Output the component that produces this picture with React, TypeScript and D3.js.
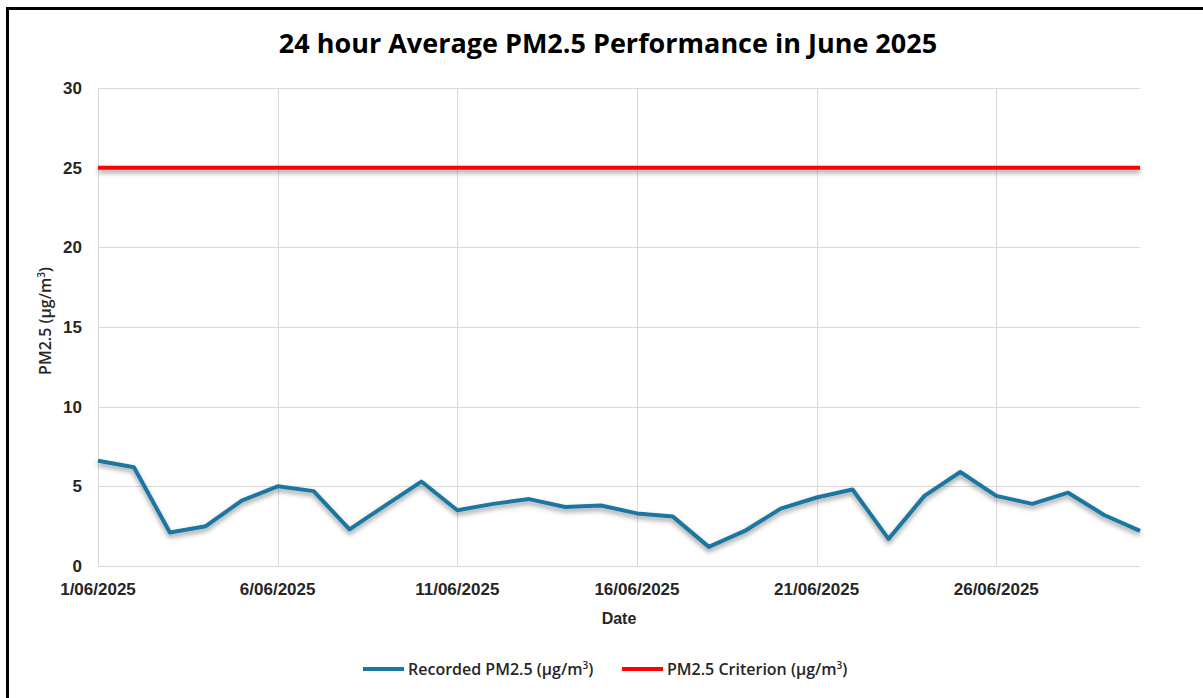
import { useEffect, useRef } from "react";
import * as d3 from "d3";

const W = 1203;
const H = 698;

// day of June 2025
const days = [
  1, 2, 3, 4, 5, 6, 7, 8, 9, 10, 11, 12, 13, 14, 15,
  16, 17, 18, 19, 20, 21, 22, 23, 24, 25, 26, 27, 28, 29, 30,
];
const recorded = [
  6.6, 6.2, 2.1, 2.5, 4.1, 5.0, 4.7, 2.3, 3.8, 5.3, 3.5, 3.9, 4.2, 3.7, 3.8,
  3.3, 3.1, 1.2, 2.2, 3.6, 4.3, 4.8, 1.7, 4.4, 5.9, 4.4, 3.9, 4.6, 3.2, 2.2,
];
const criterion = 25;
const xTickDays = [1, 6, 11, 16, 21, 26];
const yTicks = [0, 5, 10, 15, 20, 25, 30];

const title = "24 hour Average PM2.5 Performance in June 2025";
const seriesNames = ["Recorded PM2.5 (µg/m", "PM2.5 Criterion (µg/m"];
const seriesColors = ["#1a77a0", "#ff0000"];

export default function App() {
  const svgRef = useRef<SVGSVGElement>(null);

  useEffect(() => {
    const svg = d3.select(svgRef.current);
    svg.selectAll("*").remove();

    const margin = { left: 98, right: 63, top: 88, bottom: 132 };
    const toDate = (d: number) => new Date(2025, 5, d);

    const x = d3.scaleTime()
      .domain([toDate(1), toDate(30)])
      .range([margin.left, W - margin.right]);
    const y = d3.scaleLinear()
      .domain([0, 30])
      .range([H - margin.bottom, margin.top]);

    const defs = svg.append("defs");
    defs.append("filter")
      .attr("id", "shadow")
      .attr("filterUnits", "userSpaceOnUse")
      .attr("x", 0).attr("y", 0).attr("width", W).attr("height", H)
      .append("feDropShadow")
      .attr("dx", 0).attr("dy", 3).attr("stdDeviation", 2.5)
      .attr("flood-color", "#000").attr("flood-opacity", 0.4);

    svg.append("rect")
      .attr("width", W).attr("height", H).attr("fill", "#fff");

    // outer frame (continues beyond the right and bottom edges)
    svg.append("rect")
      .attr("x", 7.5).attr("y", 8.5)
      .attr("width", W + 20).attr("height", H + 20)
      .attr("fill", "none").attr("stroke", "#000").attr("stroke-width", 3);

    svg.append("text")
      .attr("x", 608).attr("y", 53)
      .attr("text-anchor", "middle")
      .attr("font-family", "Open Sans, sans-serif")
      .attr("font-weight", 700)
      .attr("font-size", 27)
      .attr("fill", "#000")
      .text(title);

    const grid = svg.append("g").attr("stroke", "#d9d9d9").attr("stroke-width", 1);
    grid.selectAll("line.h")
      .data(yTicks)
      .enter().append("line")
      .attr("x1", margin.left).attr("x2", W - margin.right)
      .attr("y1", d => Math.round(y(d)) + 0.5).attr("y2", d => Math.round(y(d)) + 0.5);
    grid.selectAll("line.v")
      .data(xTickDays)
      .enter().append("line")
      .attr("x1", d => Math.round(x(toDate(d))) + 0.5).attr("x2", d => Math.round(x(toDate(d))) + 0.5)
      .attr("y1", margin.top).attr("y2", H - margin.bottom);

    // axis labels
    svg.append("g")
      .selectAll("text")
      .data(yTicks)
      .enter().append("text")
      .attr("x", 82).attr("y", d => y(d) + 6)
      .attr("text-anchor", "end")
      .attr("font-family", "Liberation Sans, Arial, sans-serif")
      .attr("font-weight", "bold")
      .attr("font-size", 17)
      .attr("fill", "#262626")
      .text(d => d);

    const fmt = d3.timeFormat("%-d/%m/%Y");
    svg.append("g")
      .selectAll("text")
      .data(xTickDays)
      .enter().append("text")
      .attr("x", d => x(toDate(d))).attr("y", 595)
      .attr("text-anchor", "middle")
      .attr("font-family", "Liberation Sans, Arial, sans-serif")
      .attr("font-weight", "bold")
      .attr("font-size", 17)
      .attr("fill", "#262626")
      .text(d => fmt(toDate(d)));

    svg.append("text")
      .attr("x", 619).attr("y", 624)
      .attr("text-anchor", "middle")
      .attr("font-family", "Liberation Sans, Arial, sans-serif")
      .attr("font-weight", "bold")
      .attr("font-size", 16)
      .attr("fill", "#262626")
      .text("Date");

    const yl = svg.append("text")
      .attr("transform", "translate(51,321) rotate(-90)")
      .attr("text-anchor", "middle")
      .attr("font-family", "Open Sans, sans-serif")
      .attr("font-weight", 600)
      .attr("font-size", 16)
      .attr("fill", "#262626");
    yl.append("tspan").text("PM2.5 (µg/m");
    yl.append("tspan").attr("dy", -6).attr("font-size", 10).text("3");
    yl.append("tspan").attr("dy", 6).text(")");

    // criterion line
    svg.append("line")
      .attr("x1", margin.left).attr("x2", W - margin.right)
      .attr("y1", y(criterion)).attr("y2", y(criterion))
      .attr("stroke", seriesColors[1]).attr("stroke-width", 4)
      .attr("filter", "url(#shadow)");

    // recorded series
    const line = d3.line<number>()
      .x((_, i) => x(toDate(days[i])))
      .y(d => y(d));
    svg.append("path")
      .datum(recorded)
      .attr("d", line)
      .attr("fill", "none")
      .attr("stroke", seriesColors[0])
      .attr("stroke-width", 4)
      .attr("stroke-linejoin", "round")
      .attr("filter", "url(#shadow)");

    // legend
    const legendX = [363, 622];
    seriesNames.forEach((name, i) => {
      const g = svg.append("g").attr("transform", `translate(${legendX[i]},669)`);
      g.append("line")
        .attr("x1", 0).attr("x2", 41)
        .attr("stroke", seriesColors[i]).attr("stroke-width", 4);
      const t = g.append("text")
        .attr("x", 45).attr("y", 6)
        .attr("font-family", "Open Sans, sans-serif")
        .attr("font-weight", 600)
        .attr("font-size", 16)
        .attr("fill", "#262626");
      t.append("tspan").text(name);
      t.append("tspan").attr("dy", -6).attr("font-size", 10).text("3");
      t.append("tspan").attr("dy", 6).text(")");
    });
  }, []);

  return (
    <svg
      ref={svgRef}
      width={W}
      height={H}
      style={{ position: "absolute", left: 0, top: 0, display: "block" }}
    />
  );
}
